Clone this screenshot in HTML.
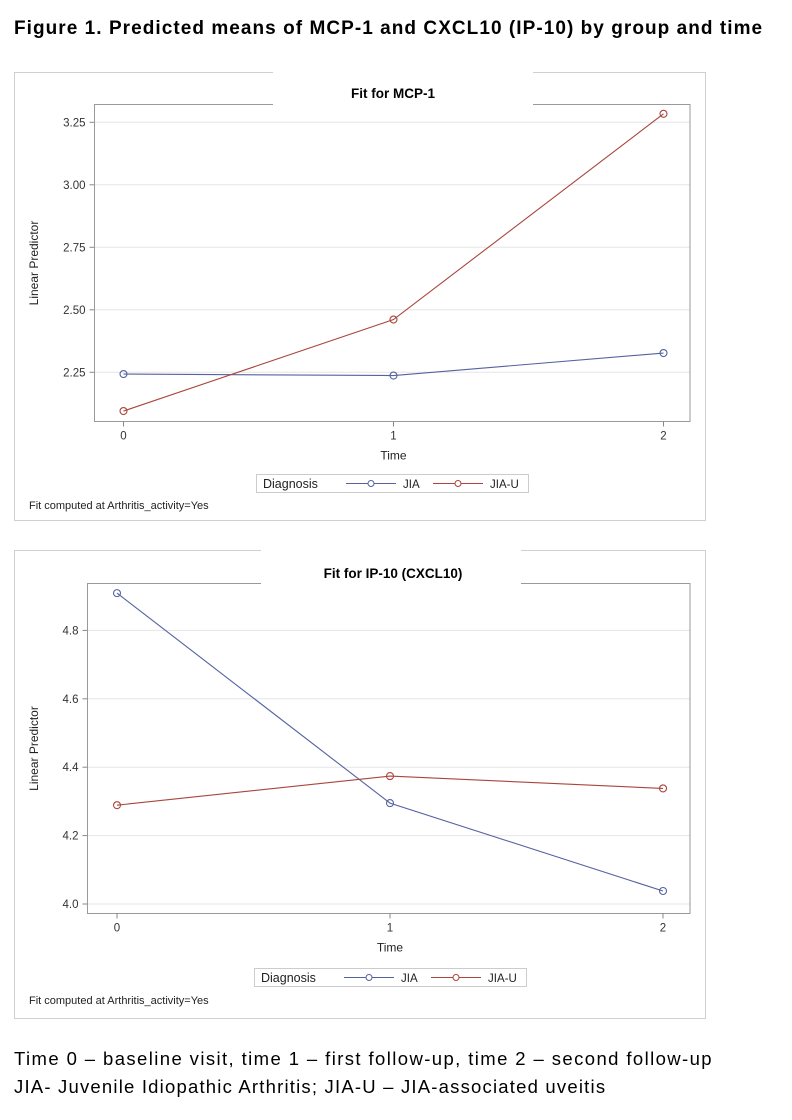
<!DOCTYPE html>
<html><head><meta charset="utf-8"><style>
body{margin:0;background:#fff;width:792px;height:1120px;overflow:hidden;font-family:"Liberation Sans",sans-serif}
.h{position:absolute;left:14px;top:18px;font-weight:bold;font-size:19px;letter-spacing:1.05px;color:#000;white-space:nowrap}
.c{position:absolute;left:14px;font-size:18.5px;letter-spacing:1.4px;color:#000;white-space:nowrap}
svg{position:absolute;left:0;top:0}
</style></head><body>
<div class="h">Figure 1. Predicted means of MCP-1 and CXCL10 (IP-10) by group and time</div>
<svg id="s" width="792" height="1120"></svg>
<div class="c" style="top:1048px">Time 0 – baseline visit, time 1 – first follow-up, time 2 – second follow-up</div>
<div class="c" style="top:1076px;letter-spacing:1.2px">JIA- Juvenile Idiopathic Arthritis; JIA-U – JIA-associated uveitis</div>
<script>
const times=[0,1,2];
const mcpJIA=[2.243,2.237,2.327];
const mcpJIAU=[2.095,2.461,3.284];
const mcpTicks=[2.25,2.50,2.75,3.00,3.25];
const ipJIA=[4.909,4.295,4.038];
const ipJIAU=[4.289,4.374,4.338];
const ipTicks=[4.0,4.2,4.4,4.6,4.8];
const seriesNames=["JIA","JIA-U"];
const colors=["#5562a0","#a9453c"];
const NS="http://www.w3.org/2000/svg";
const svg=document.getElementById('s');
function el(t,a,p){const e=document.createElementNS(NS,t);for(const k in a)e.setAttribute(k,a[k]);(p||svg).appendChild(e);return e;}
function chart(o){
 const g=el('g',{});
 
 
 el('rect',{x:14.5,y:o.oy+.5,width:691,height:o.oh,fill:'none',stroke:'#d0d0d0'},g);
 const L=o.L,R=690,T=o.T,B=o.B;
 const ys=v=>o.y0+(v-o.v0)*o.k;
 const xs=t=>o.x0+t*o.dx;
 o.ticks.forEach((v,i)=>{
  const y=ys(v);
  const gl=el('line',{x1:L,x2:R,y1:y,y2:y,stroke:'#e6e6e6'},g);
  
  el('line',{x1:L-5,x2:L,y1:y,y2:y,stroke:'#888'},g);
  const t=el('text',{x:L-9,y:y+4,'text-anchor':'end','font-size':11.5,fill:'#333'},g);
  t.textContent=o.fmt(v);
  
 });
 el('rect',{x:L,y:T,width:R-L,height:B-T,fill:'none',stroke:'#999'},g);
 times.forEach(t=>{
  const x=xs(t);
  el('line',{x1:x,x2:x,y1:B,y2:B+5,stroke:'#888'},g);
  const tx=el('text',{x:x,y:B+18,'text-anchor':'middle','font-size':11.5,fill:'#333'},g);
  tx.textContent=t;
  
 });
 el('rect',{x:o.gap[0],y:o.oy-1,width:o.gap[1]-o.gap[0],height:T-o.oy+2,fill:'#fff'},g);
 const ti=el('text',{x:393,y:o.ty,'text-anchor':'middle','font-size':13.5,'font-weight':'bold'},g);
 ti.textContent=o.title;
 
 const xt=el('text',{x:(xs(0)+xs(2))/2,y:B+38,'text-anchor':'middle','font-size':12,fill:'#222'},g);
 xt.textContent='Time';
 const yc=(T+B)/2;
 const yt=el('text',{x:38,y:yc,'text-anchor':'middle','font-size':12,fill:'#222',transform:`rotate(-90 38 ${yc})`},g);
 yt.textContent='Linear Predictor';
 [o.a,o.b].forEach((s,si)=>{
  const p=el('polyline',{points:s.map((v,i)=>xs(times[i])+','+ys(v)).join(' '),fill:'none',stroke:colors[si],'stroke-width':1.1},g);
  
  s.forEach((v,i)=>{
   const c=el('circle',{cx:xs(times[i]),cy:ys(v),r:3.5,fill:'none',stroke:colors[si],'stroke-width':1.1},g);
   
  });
 });
 const lg=el('g',{},g);
 
 el('rect',{x:o.lx+.5,y:o.ly+.5,width:272,height:18,fill:'#fff',stroke:'#ccc'},lg);
 const d=el('text',{x:o.lx+7,y:o.ly+14,'font-size':12.5,fill:'#222'},lg);d.textContent='Diagnosis';
 [[o.lx+90,0],[o.lx+177,1]].forEach(([x,i])=>{
  el('line',{x1:x,x2:x+50,y1:o.ly+9.5,y2:o.ly+9.5,stroke:colors[i],'stroke-width':1.1},lg);
  el('circle',{cx:x+25,cy:o.ly+9.5,r:3,fill:'#fff',stroke:colors[i]},lg);
  const t=el('text',{x:x+57,y:o.ly+14,'font-size':11.5,fill:'#222'},lg);t.textContent=seriesNames[i];
  
 });
 const f=el('text',{x:29,y:o.fy,'font-size':11,fill:'#222'},g);
 f.textContent='Fit computed at Arthritis_activity=Yes';
 
}
chart({name:'mcp1-chart',oy:72,oh:448,L:94.5,T:104.5,B:421.5,y0:372.3,v0:2.25,k:-250,x0:123.5,dx:270,ticks:mcpTicks,fmt:v=>v.toFixed(2),a:mcpJIA,b:mcpJIAU,gap:[273,533],title:'Fit for MCP-1',ty:98,lx:256,ly:474,fy:509});
chart({name:'ip10-chart',oy:550,oh:468,L:87.5,T:583.5,B:913.5,y0:904,v0:4.0,k:-342,x0:117,dx:273,ticks:ipTicks,fmt:v=>v.toFixed(1),a:ipJIA,b:ipJIAU,gap:[261,521],title:'Fit for IP-10 (CXCL10)',ty:578,lx:254,ly:968,fy:1004});
</script>
</body></html>
